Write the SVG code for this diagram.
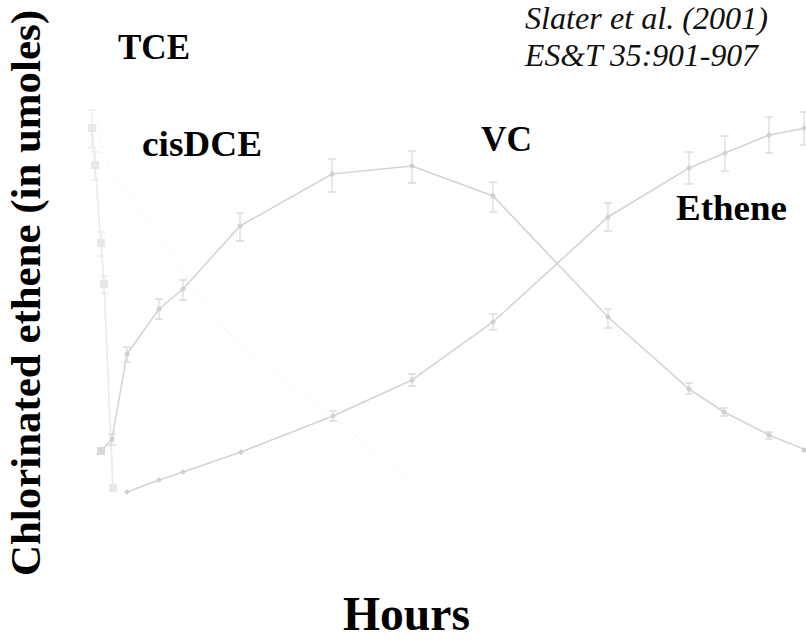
<svg xmlns="http://www.w3.org/2000/svg" width="806" height="642" viewBox="0 0 806 642">
<style>
.lbl{font-family:"Liberation Serif","Times New Roman",serif;font-weight:bold;fill:#000}
.cite{font-family:"Liberation Serif","Times New Roman",serif;font-style:italic;fill:#111;font-size:31px}
.curve{fill:none;stroke:#d4d4d4;stroke-width:1.6}
.tce{fill:none;stroke:#ebebeb;stroke-width:1.8}
.faint{fill:none;stroke:#f6f6f6;stroke-width:1.5;stroke-dasharray:2 3}
.err{fill:none;stroke:#dcdcdc;stroke-width:1.3}
.errt{fill:none;stroke:#ececec;stroke-width:1.3}
.dot{fill:#d0d0d0}
.sq{fill:#e8e8e8}
</style>
<rect width="806" height="642" fill="#fff"/>

<g id="faint-series">
<polyline class="faint" points="97,122 99,140 110,172 130,195 190,283 240,347 333,418 413,482"/>
</g>

<g id="TCE-series">
<polyline class="tce" points="92,128 95,165 101,243 104,284 113,488"/>
<path class="errt" d="M92,110V148M88,110H96M88,148H96M95,152V180M91,152H99M91,180H99M101,232V256M97,232H105M97,256H105M104,276V293M100,276H108M100,293H108"/>
<rect class="sq" x="88" y="124" width="8" height="8"/>
<rect class="sq" x="91" y="161" width="8" height="8"/>
<rect class="sq" x="97" y="239" width="8" height="8"/>
<rect class="sq" x="100" y="280" width="8" height="8"/>
<rect class="sq" x="109" y="484" width="8" height="8"/>
</g>

<g id="cisDCE-series">
<polyline class="curve" points="101,451 112,439 127,354 159,309 183,289 240,226 332,174 412,166 493,196 608,317 689,389 724,412 769,435 806,450"/>
<path class="err" d="M112,434V445M108,434H116M108,445H116M127,347V362M123,347H131M123,362H131M159,299V319M155,299H163M155,319H163M183,280V300M179,280H187M179,300H187M240,213V241M236,213H244M236,241H244M332,159V192M328,159H336M328,192H336M412,151V183M408,151H416M408,183H416M493,182V212M489,182H497M489,212H497M608,309V328M604,309H612M604,328H612M689,383V394M685,383H693M685,394H693M724,408V416M720,408H728M720,416H728M769,432V439M765,432H773M765,439H773"/>
<rect x="97" y="447" width="8" height="8" fill="#d8d8d8"/>
<circle class="dot" cx="112" cy="439" r="2.5"/>
<circle class="dot" cx="127" cy="354" r="2.5"/>
<circle class="dot" cx="159" cy="309" r="2.5"/>
<circle class="dot" cx="183" cy="289" r="2.5"/>
<circle class="dot" cx="240" cy="226" r="2.5"/>
<circle class="dot" cx="332" cy="174" r="2.5"/>
<circle class="dot" cx="412" cy="166" r="2.5"/>
<circle class="dot" cx="493" cy="196" r="2.5"/>
<circle class="dot" cx="608" cy="317" r="2.5"/>
<circle class="dot" cx="689" cy="389" r="2.5"/>
<circle class="dot" cx="724" cy="412" r="2.5"/>
<circle class="dot" cx="769" cy="435" r="2.5"/>
<circle class="dot" cx="804" cy="450" r="2.5"/>
</g>

<g id="VC-series">
<polyline class="curve" points="127,492 159,480 183,472 241,452 333,416 412,380 493,322 608,217 689,168 725,153 769,135 806,128"/>
<path class="err" d="M333,411V421M329,411H337M329,421H337M412,374V386M408,374H416M408,386H416M493,314V330M489,314H497M489,330H497M608,203V231M604,203H612M604,231H612M689,152V184M685,152H693M685,184H693M725,136V171M721,136H729M721,171H729M769,117V153M765,117H773M765,153H773M804,112V145M800,112H806M800,145H806"/>
<path class="dot" d="M127,489L130,492L127,495L124,492Z M159,477L162,480L159,483L156,480Z M183,469L186,472L183,475L180,472Z M241,449L244,452L241,455L238,452Z M333,413L336,416L333,419L330,416Z M412,377L415,380L412,383L409,380Z M493,319L496,322L493,325L490,322Z M608,214L611,217L608,220L605,217Z M689,165L692,168L689,171L686,168Z M725,150L728,153L725,156L722,153Z M769,132L772,135L769,138L766,135Z M804,125L807,128L804,131L801,128Z"/>
</g>

<g id="label-TCE"><text class="lbl" x="118" y="59" font-size="36" textLength="72" lengthAdjust="spacingAndGlyphs">TCE</text></g>
<g id="label-cisDCE"><text class="lbl" x="142" y="156" font-size="36" textLength="120" lengthAdjust="spacingAndGlyphs">cisDCE</text></g>
<g id="label-VC"><text class="lbl" x="481" y="151" font-size="36" textLength="51" lengthAdjust="spacingAndGlyphs">VC</text></g>
<g id="label-Ethene"><text class="lbl" x="676" y="220" font-size="36" textLength="111" lengthAdjust="spacingAndGlyphs">Ethene</text></g>

<g id="citation">
<text class="cite" x="525" y="29" textLength="243" lengthAdjust="spacingAndGlyphs">Slater et al. (2001)</text>
<text class="cite" x="525" y="66" textLength="233" lengthAdjust="spacingAndGlyphs">ES&amp;T 35:901-907</text>
</g>

<g id="axis-titles">
<text class="lbl" font-size="42" transform="translate(40,576) rotate(-90)" textLength="566" lengthAdjust="spacingAndGlyphs">Chlorinated ethene (in umoles)</text>
<text class="lbl" font-size="48" x="343" y="630" textLength="127" lengthAdjust="spacingAndGlyphs">Hours</text>
</g>
</svg>
